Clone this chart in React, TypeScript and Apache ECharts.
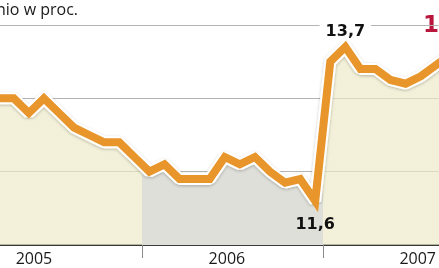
import React, { useEffect, useRef } from 'react';
import * as echarts from 'echarts';

const years = ['2005', '2006', '2007'];
const months = [
  '2005-03', '2005-04', '2005-05', '2005-06', '2005-07', '2005-08', '2005-09', '2005-10', '2005-11', '2005-12',
  '2006-01', '2006-02', '2006-03', '2006-04', '2006-05', '2006-06', '2006-07', '2006-08', '2006-09', '2006-10', '2006-11', '2006-12',
  '2007-01', '2007-02', '2007-03', '2007-04', '2007-05', '2007-06', '2007-07', '2007-08', '2007-09',
];
const values = [
  13.0, 13.0, 12.8, 13.0, 12.8, 12.6, 12.5, 12.4, 12.4, 12.2,
  12.0, 12.1, 11.9, 11.9, 11.9, 12.2, 12.1, 12.2, 12.0, 11.85, 11.9, 11.6,
  13.5, 13.7, 13.4, 13.4, 13.25, 13.2, 13.3, 13.45, 13.6,
];
const yTicks = [11, 12, 13, 14];
const pointLabels = [
  { month: '2006-12', text: '11,6', position: 'bottom' },
  { month: '2007-02', text: '13,7', position: 'top' },
];
const unitText = 'nio w proc.';
const edgeText = '14,1';

const monthPos = (s: string) => {
  const [y, mo] = s.split('-').map(Number);
  return (y - Number(years[0])) * 12 + (mo - 1) + 0.5;
};

export default function App() {
  const ref = useRef<HTMLDivElement>(null);
  useEffect(() => {
    if (!ref.current) return;
    const chart = echarts.init(ref.current, null, { renderer: 'svg' });
    const pts = months.map((m, i) => [monthPos(m), values[i]]);
    const labelPts = pointLabels.map((pl) => {
      const i = months.indexOf(pl.month);
      const top = pl.position === 'top';
      return {
        value: pts[i],
        label: {
          show: true,
          position: pl.position,
          distance: top ? 7 : 14,
          formatter: pl.text,
          color: '#111111',
          opacity: 1,
          fontFamily: 'DejaVu Sans',
          fontWeight: 'bold',
          fontSize: 16,
          backgroundColor: top ? '#ffffff' : 'transparent',
          padding: top ? [2, 6] : 0,
        },
      };
    });
    const yellow = 'rgba(236,233,198,0.68)';
    const grey = '#dfdfda';
    chart.setOption({
      animation: false,
      grid: { left: 0, right: 0, top: 25, bottom: 23, containLabel: false },
      xAxis: {
        type: 'value',
        min: 2.586,
        max: 31.69,
        splitLine: { show: false },
        axisLine: { show: true, onZero: false, lineStyle: { color: '#3a3a3a', width: 2 } },
        axisTick: { show: true, customValues: [12, 24], length: 13, lineStyle: { color: '#8c8c8c', width: 1 } },
        axisLabel: {
          customValues: [4.84, 17.64, 30.3],
          formatter: (v: number) => years[Math.floor(v / 12)],
          color: '#1a1a1a',
          fontSize: 16,
          fontFamily: 'Open Sans',
          margin: 5,
        },
      },
      yAxis: {
        type: 'value',
        min: yTicks[0],
        max: yTicks[yTicks.length - 1],
        interval: 1,
        axisLine: { show: false },
        axisTick: { show: false },
        axisLabel: { show: false },
        splitLine: { show: true, lineStyle: { color: '#b4b4b4', width: 1 } },
      },
      visualMap: {
        type: 'piecewise',
        show: false,
        dimension: 0,
        seriesIndex: 0,
        pieces: [
          { lt: 12, color: yellow },
          { gte: 12, lt: 24, color: grey },
          { gte: 24, color: yellow },
        ],
      },
      series: [
        {
          type: 'line',
          data: pts,
          symbol: 'none',
          lineStyle: { width: 0 },
          areaStyle: { opacity: 1 },
          z: 2,
          silent: true,
        },
        {
          type: 'line',
          data: pts,
          symbol: 'none',
          lineStyle: {
            width: 12,
            color: '#ffffff',
            shadowColor: 'rgba(0,0,0,0.25)',
            shadowBlur: 3,
            shadowOffsetY: 1,
          },
          z: 3,
          silent: true,
        },
        {
          type: 'line',
          data: pts,
          symbol: 'none',
          lineStyle: { width: 8, color: '#e8952b', join: 'miter' },
          z: 4,
          silent: true,
        },
        {
          type: 'scatter',
          data: labelPts,
          symbolSize: 0,
          itemStyle: { color: '#111111', opacity: 1 },
          z: 5,
          silent: true,
        },
      ],
      graphic: [
        {
          type: 'text',
          left: -4,
          top: 1,
          style: { text: unitText, fill: '#1a1a1a', font: '16px "Open Sans"' },
        },
        {
          type: 'text',
          x: 421,
          y: 24,
          style: {
            text: edgeText,
            fill: '#b8163c',
            font: 'bold 23px "DejaVu Sans"',
            verticalAlign: 'middle',
            backgroundColor: '#ffffff',
            padding: [0, 0, 0, 2],
          },
        },
      ],
    });
    return () => chart.dispose();
  }, []);
  return <div ref={ref} style={{ width: 439, height: 268, position: 'fixed', left: 0, top: 0 }} />;
}
